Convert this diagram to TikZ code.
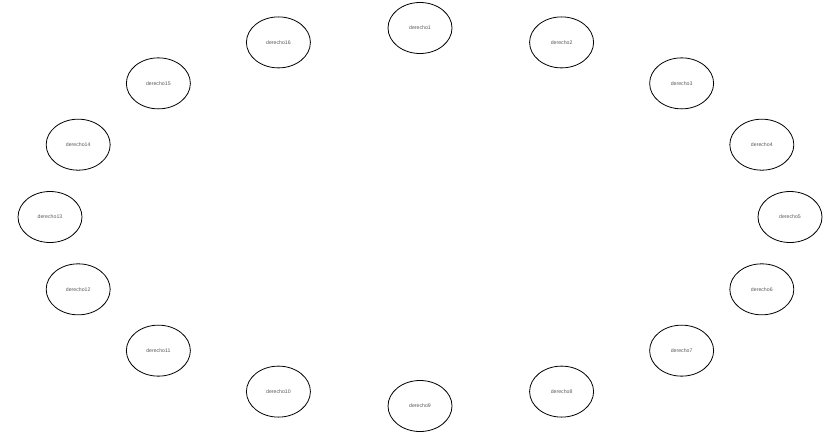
\documentclass[tikz,border=0pt]{standalone}
\usepackage{fontspec}
\setmainfont{Liberation Sans}
\usetikzlibrary{shapes.geometric}
\definecolor{lbl}{HTML}{5A5A5A}
\tikzset{
  vnode/.style={ellipse, draw=black, line width=0.8pt, minimum width=64pt, minimum height=51pt, inner sep=0pt,
    font=\fontsize{5.2}{6}\selectfont, text=lbl}
}
\begin{document}
\begin{tikzpicture}[x=1pt,y=-1pt]
\useasboundingbox (0,0) rectangle (829,434);
\foreach \k in {1,...,16} {
  \pgfmathsetmacro{\ang}{90-22.5*(\k-1)}
  \pgfmathsetmacro{\px}{420+370*cos(\ang)}
  \pgfmathsetmacro{\py}{217-189*sin(\ang)}
  \node[vnode] (n\k) at (\px,\py) {derecho\k};
}
\end{tikzpicture}
\end{document}
